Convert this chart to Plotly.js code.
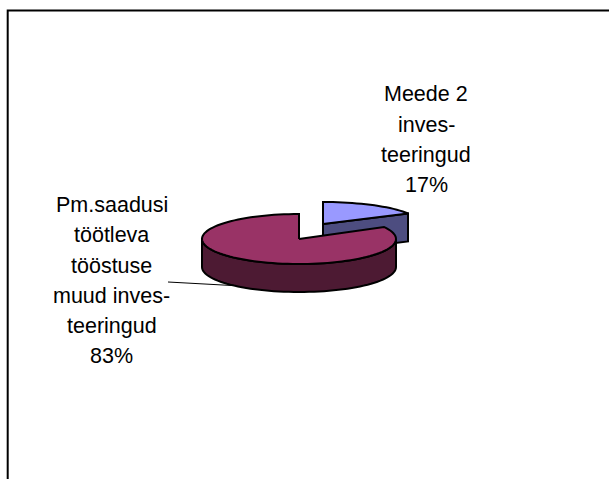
<!DOCTYPE html>
<html>
<head>
<meta charset="utf-8">
<script src="https://cdn.plot.ly/plotly-3.0.1.min.js"></script>
<style>html,body{margin:0;padding:0;background:#fff}#c{width:609px;height:479px}</style>
</head>
<body>
<div id="c"></div>
<script>
const categories = ["Meede 2 investeeringud", "Pm.saadusi töötleva tööstuse muud investeeringud"];
const shares = [17, 83];
const topColors = ["#9999ff", "#993366"];
const sideColors = ["#4d4d80", "#4d1a33"];
const labelLines = [
  ["Meede 2", "inves-", "teeringud", "17%"],
  ["Pm.saadusi", "töötleva", "tööstuse", "muud inves-", "teeringud", "83%"]
];
const labelX = [426, 111.5];
const labelY = [[94, 124.5, 154.5, 185], [205, 235, 265.5, 295.5, 325.5, 355.5]];
const centers = [[323, 224], [299, 239]];
const radiiY = [22, 25];
const radiusX = 97, depth = 28;

function pt(i, deg, dy) {
  const r = deg * Math.PI / 180, c = centers[i];
  return [c[0] + radiusX * Math.sin(r), c[1] - radiiY[i] * Math.cos(r) + (dy || 0)];
}
function arc(i, from, to, dy) {
  const out = [];
  const n = Math.max(2, Math.ceil(Math.abs(to - from) / 3));
  for (let k = 0; k <= n; k++) out.push(pt(i, from + (to - from) * k / n, dy));
  return out;
}
function poly(points, fill, name) {
  return {
    type: "scatter", mode: "lines", name: name, hoverinfo: "skip",
    x: points.map(p => p[0]), y: points.map(p => p[1]),
    fill: "toself", fillcolor: fill,
    line: {color: "#000", width: 2, simplify: false}
  };
}

const split = shares[0] / (shares[0] + shares[1]) * 360;
const traces = [];
// Blue wedge: inner cut face then top
const bTip = pt(0, split);
traces.push(poly([centers[0], bTip, [bTip[0], bTip[1] + depth], [centers[0][0], centers[0][1] + depth], centers[0]], sideColors[0], categories[0]));
traces.push(poly([centers[0], ...arc(0, 0, split), centers[0]], topColors[0], categories[0]));
// Maroon wedge: outer rim then top
const rimTop = arc(1, 90, 270);
const rimBottom = arc(1, 270, 90, depth);
traces.push(poly([...rimTop, ...rimBottom, rimTop[0]], sideColors[1], categories[1]));
traces.push(poly([centers[1], ...arc(1, split, 360), centers[1]], topColors[1], categories[1]));
// Leader line
traces.push({type: "scatter", mode: "lines", hoverinfo: "skip", x: [168, 232], y: [282, 285.5], line: {color: "#000", width: 1}});

const annotations = [];
labelLines.forEach((lines, i) => lines.forEach((t, j) => annotations.push({
  text: t, x: labelX[i], y: labelY[i][j], xref: "x", yref: "y",
  showarrow: false, xanchor: "center", yanchor: "middle",
  font: {family: "Liberation Sans, Arial, sans-serif", size: 21.5, color: "#000"}
})));

const layout = {
  width: 609, height: 479,
  margin: {l: 0, r: 0, t: 0, b: 0},
  paper_bgcolor: "#fff", plot_bgcolor: "#fff",
  showlegend: false,
  xaxis: {range: [0, 609], visible: false, fixedrange: true},
  yaxis: {range: [479, 0], visible: false, fixedrange: true},
  annotations: annotations,
  shapes: [{type: "path", xref: "x", yref: "y", path: "M 7.7 490 L 7.7 10.5 L 620 10.5", line: {color: "#000", width: 2}}]
};
Plotly.newPlot("c", traces, layout, {displayModeBar: false, staticPlot: true});
</script>
</body>
</html>
